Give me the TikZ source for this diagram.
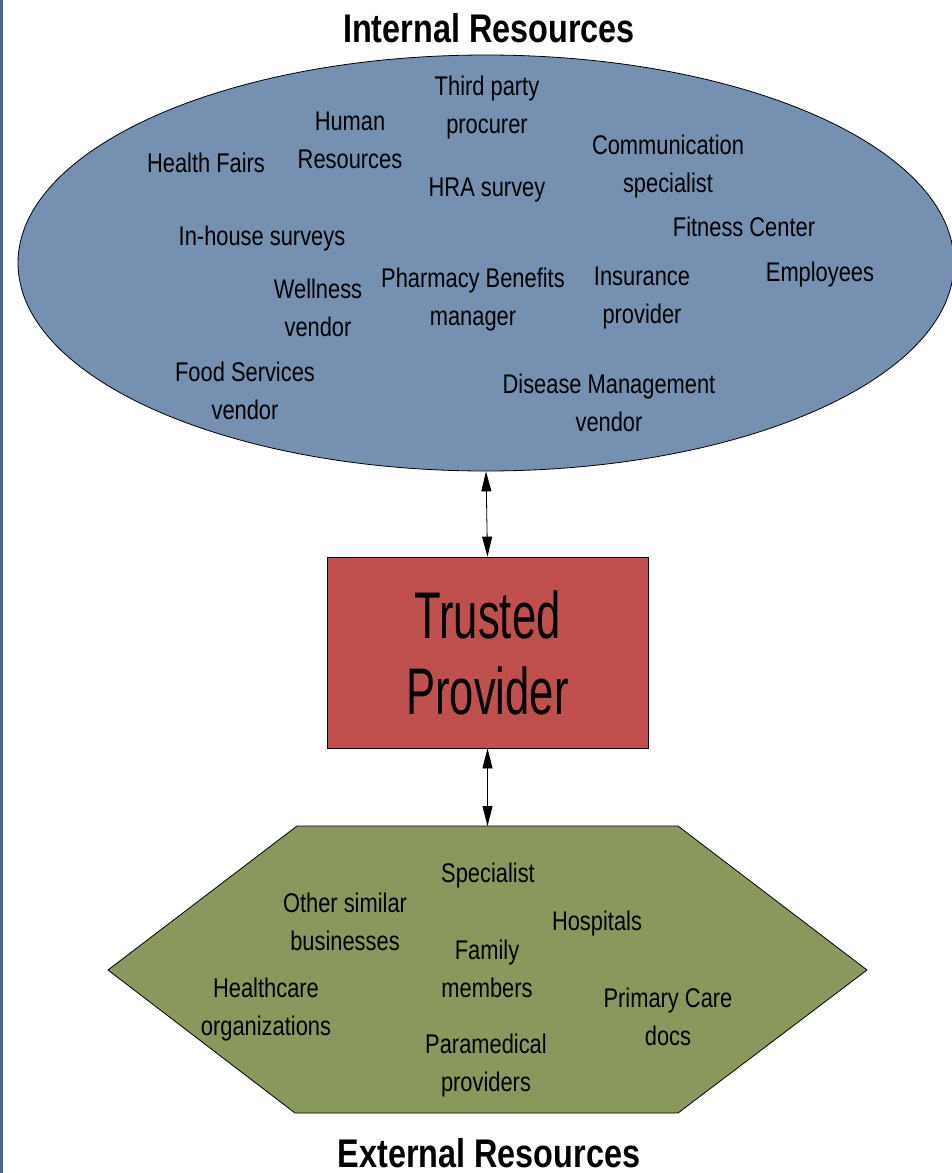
\documentclass[tikz,border=0pt]{standalone}
\usepackage{fontspec}
\setmainfont[FakeStretch=0.81]{Liberation Sans}
\newfontfamily\tpfont[FakeStretch=0.66]{Liberation Sans}
\newfontfamily\titlefont[FakeStretch=0.81]{Liberation Sans}
\usetikzlibrary{shapes.geometric,arrows.meta}
\definecolor{ellblue}{RGB}{118,144,178}
\definecolor{tpred}{RGB}{192,80,77}
\definecolor{hexgreen}{RGB}{137,153,94}
\definecolor{barblue}{RGB}{68,104,155}
\tikzset{
  lbl/.style={inner sep=0pt, align=center, text depth=0pt, font=\fontsize{27}{38}\selectfont},
  ttl/.style={inner sep=0pt, text depth=0pt, font=\titlefont\bfseries\fontsize{40}{44}\selectfont},
  link/.style={line width=0.8pt, {Triangle[length=20pt,width=10pt]}-{Triangle[length=20pt,width=10pt]}},
}
\begin{document}
\begin{tikzpicture}[x=1pt,y=-1pt]
\useasboundingbox (0,0) rectangle (951,1173);
\fill[white] (0,0) rectangle (951,1173);
\fill[barblue] (0,0) rectangle (2.5,1173);
% titles
\node[ttl] (tin) at (489,28) {Internal Resources};
\node[ttl] (tex) at (489,1153) {External Resources};
% internal ellipse
\node[ellipse, draw=black, line width=0.8pt, fill=ellblue, minimum width=936pt, minimum height=416pt, inner sep=0pt] (ell) at (486,263) {};
% trusted provider
\node[draw=black, line width=0.8pt, fill=tpred, minimum width=321pt, minimum height=191pt, inner sep=0pt, align=center, font=\tpfont\fontsize{66}{76}\selectfont] (tp) at (487.5,652.5) {Trusted\\Provider};
% external hexagon
\draw[line width=0.8pt, fill=hexgreen] (297,826) -- (678,826) -- (867,970) -- (678,1113) -- (295,1113) -- (108,970) -- cycle;
\coordinate (hextop) at (487.5,826);
% arrows
\draw[link] (ell.south) -- (tp.north);
\draw[link] (tp.south) -- (hextop);
% internal labels
\node[lbl] (l1) at (487,104.5) {Third party\\procurer};
\node[lbl] (l2) at (350,140) {Human\\Resources};
\node[lbl] (l3) at (206,163) {Health Fairs};
\node[lbl] (l4) at (668,164) {Communication\\specialist};
\node[lbl] (l5) at (487,187) {HRA survey};
\node[lbl] (l6) at (744,227) {Fitness Center};
\node[lbl] (l7) at (262,236) {In-house surveys};
\node[lbl] (l8) at (820,272) {Employees};
\node[lbl] (l9) at (473,297) {Pharmacy Benefits\\manager};
\node[lbl] (l10) at (642,295) {Insurance\\provider};
\node[lbl] (l11) at (318,307.5) {Wellness\\vendor};
\node[lbl] (l12) at (245,390.5) {Food Services\\vendor};
\node[lbl] (l13) at (609,402.5) {Disease Management\\vendor};
% external labels
\node[lbl] (e1) at (488,873) {Specialist};
\node[lbl] (e2) at (345,921.5) {Other similar\\businesses};
\node[lbl] (e3) at (597,921) {Hospitals};
\node[lbl] (e4) at (487,969) {Family\\members};
\node[lbl] (e5) at (266,1006.5) {Healthcare\\organizations};
\node[lbl] (e6) at (668,1017) {Primary Care\\docs};
\node[lbl] (e7) at (486,1063) {Paramedical\\providers};
\end{tikzpicture}
\end{document}
